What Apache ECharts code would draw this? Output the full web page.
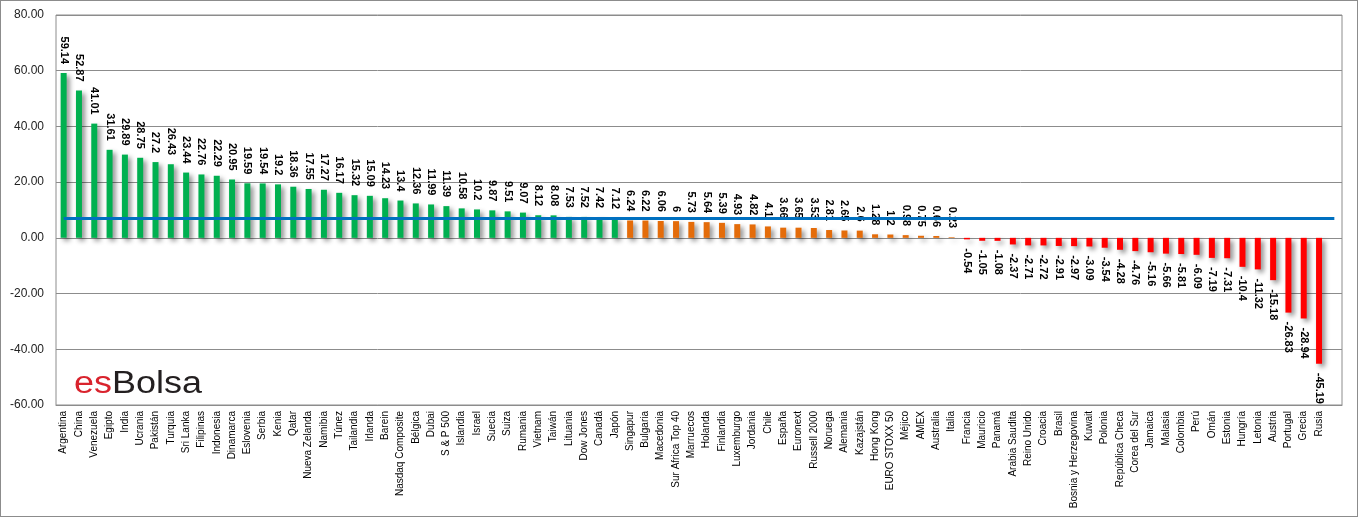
<!DOCTYPE html>
<html>
<head>
<meta charset="utf-8">
<script src="https://cdn.jsdelivr.net/npm/echarts@6/dist/echarts.min.js"></script>
<style>
  html, body { margin: 0; padding: 0; background: #fff; }
  #grafico { width: 1358px; height: 517px; box-sizing: border-box; border: 1px solid #8c8c8c; }
</style>
</head>
<body>
<div id="grafico"></div>
<script>
// rentabilidad anual por mercado (%)
var mercados = ['Argentina', 'China', 'Venezuela', 'Egipto', 'India', 'Ucrania', 'Pakistán', 'Turquia',
  'Sri Lanka', 'Filipinas', 'Indonesia', 'Dinamarca', 'Eslovenia', 'Serbia', 'Kenia', 'Qatar',
  'Nueva Zelanda', 'Namibia', 'Túnez', 'Tailandia', 'Irlanda', 'Barein', 'Nasdaq Composite', 'Bélgica',
  'Dubai', 'S & P 500', 'Islandia', 'Israel', 'Suecia', 'Suiza', 'Rumania', 'Vietnam', 'Taiwán',
  'Lituania', 'Dow Jones', 'Canadá', 'Japón', 'Singapur', 'Bulgaria', 'Macedonia', 'Sur Africa Top 40',
  'Marruecos', 'Holanda', 'Finlandia', 'Luxemburgo', 'Jordania', 'Chile', 'España', 'Euronext',
  'Russell 2000', 'Noruega', 'Alemania', 'Kazajstán', 'Hong Kong', 'EURO STOXX 50', 'Méjico', 'AMEX',
  'Australia', 'Italia', 'Francia', 'Mauricio', 'Panamá', 'Arabia Saudita', 'Reino Unido', 'Croacia',
  'Brasil', 'Bosnia y Herzegovina', 'Kuwait', 'Polonia', 'República Checa', 'Corea del Sur', 'Jamaica',
  'Malasia', 'Colombia', 'Perú', 'Omán', 'Estonia', 'Hungría', 'Letonia', 'Austria', 'Portugal',
  'Grecia', 'Rusia', ''];

var rentabilidad = [59.14, 52.87, 41.01, 31.61, 29.89, 28.75, 27.2, 26.43, 23.44, 22.76,
  22.29, 20.95, 19.59, 19.54, 19.2, 18.36, 17.55, 17.27, 16.17, 15.32,
  15.09, 14.23, 13.4, 12.36, 11.99, 11.39, 10.58, 10.2, 9.87, 9.51,
  9.07, 8.12, 8.08, 7.53, 7.52, 7.42, 7.12, 6.24, 6.22, 6.06,
  6, 5.73, 5.64, 5.39, 4.93, 4.82, 4.1, 3.66, 3.65, 3.53,
  2.81, 2.65, 2.6, 1.28, 1.2, 0.98, 0.75, 0.66, 0.23, -0.54,
  -1.05, -1.08, -2.37, -2.71, -2.72, -2.91, -2.97, -3.09, -3.54, -4.28,
  -4.76, -5.16, -5.66, -5.81, -6.09, -7.19, -7.31, -10.4, -11.32, -15.18,
  -26.83, -28.94, -45.19];

var referencia = 7.2; // linea azul
var ejeY = { min: -60, max: 80, paso: 20 };

var VERDE = '#00b050', NARANJA = '#e46c0a', ROJO = '#ff0000';

var datos = rentabilidad.map(function (v) {
  return {
    value: v,
    itemStyle: { color: v < 0 ? ROJO : (v >= 7 ? VERDE : NARANJA) },
    label: v < 0 ? { position: 'bottom', align: 'left' } : { position: 'top', align: 'right' }
  };
});

var option = {
  animation: false,
  grid: { left: 55, right: 15, top: 14, bottom: 111, show: true, borderColor: '#8c8c8c', borderWidth: 1 },
  xAxis: {
    type: 'category',
    data: mercados,
    axisLine: { onZero: false, lineStyle: { color: '#8c8c8c' } },
    axisTick: { show: false },
    axisLabel: { interval: 0, rotate: 90, fontSize: 10, fontFamily: 'Liberation Sans, Arial', color: '#000', margin: 6 }
  },
  yAxis: {
    type: 'value',
    min: ejeY.min, max: ejeY.max, interval: ejeY.paso,
    axisLine: { show: false },
    axisTick: { show: false },
    splitLine: { lineStyle: { color: '#8c8c8c', width: 1 } },
    axisLabel: {
      fontSize: 12, fontFamily: 'Liberation Sans, Arial', color: '#222', margin: 12,
      formatter: function (v) { return v.toFixed(2); }
    }
  },
  series: [{
    type: 'bar',
    data: datos,
    barWidth: 6,
    itemStyle: { shadowColor: 'rgba(0,0,0,0.45)', shadowBlur: 5, shadowOffsetX: 3, shadowOffsetY: 3 },
    label: {
      show: true, rotate: -90, verticalAlign: 'middle', distance: 9,
      fontSize: 11, fontWeight: 'bold', fontFamily: 'Liberation Sans, Arial', color: '#000'
    },
    markLine: {
      silent: true,
      symbol: 'none',
      label: { show: false },
      lineStyle: { color: '#0070c0', width: 3, type: 'solid' },
      data: [[{ xAxis: 0, yAxis: referencia }, { xAxis: mercados.length - 1, yAxis: referencia }]]
    }
  }],
  graphic: [{
    type: 'text',
    x: 73, y: 368,
    scaleX: 1.16,
    style: {
      text: '{a|es}{b|Bolsa}',
      rich: {
        a: { fontSize: 31, fontFamily: 'Liberation Sans, Arial', fill: '#d9232d' },
        b: { fontSize: 31, fontFamily: 'Liberation Sans, Arial', fill: '#231f20' }
      }
    }
  }]
};

var grafico = echarts.init(document.getElementById('grafico'));
grafico.setOption(option);
</script>
</body>
</html>
